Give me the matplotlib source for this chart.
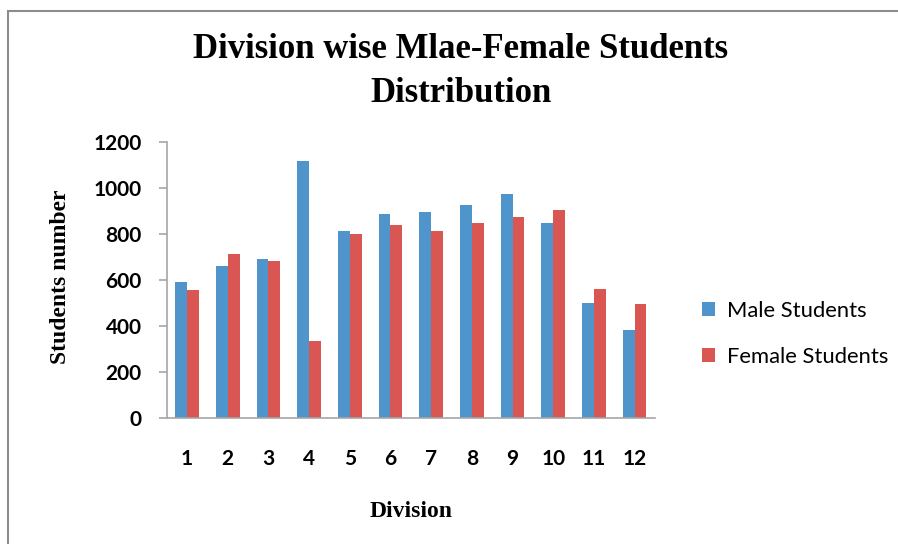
import numpy as np
import matplotlib.pyplot as plt
from matplotlib.patches import Rectangle

# division-wise counts
divisions = ["1", "2", "3", "4", "5", "6", "7", "8", "9", "10", "11", "12"]
male = [590, 662, 690, 1115, 814, 885, 896, 926, 974, 848, 500, 382]
female = [558, 714, 682, 334, 798, 838, 814, 848, 874, 902, 562, 496]

BLUE = "#4f95cb"
RED = "#d95652"
GRID = "#a6a6a6"

fig = plt.figure(figsize=(8.98, 5.44), dpi=100)
ax = fig.add_axes([0.1856, 0.231, 0.5438, 0.5085])

x = np.arange(len(divisions))
w = 0.29
ax.bar(x - w / 2, male, w, color=BLUE, label="Male Students")
ax.bar(x + w / 2, female, w, color=RED, label="Female Students")

ax.set_xlim(-0.5, len(divisions) - 0.5)
ax.set_ylim(0, 1200)
ax.set_yticks(range(0, 1201, 200))
ax.set_xticks(x)
ax.set_xticklabels(divisions)

for s in ["top", "right"]:
    ax.spines[s].set_visible(False)
for s in ["left", "bottom"]:
    ax.spines[s].set_color(GRID)
    ax.spines[s].set_linewidth(1.2)

for lab in ax.get_yticklabels() + ax.get_xticklabels():
    lab.set_fontfamily("Lato")
    lab.set_fontweight("bold")
    lab.set_fontsize(15)
ax.tick_params(axis="y", length=6, color=GRID, width=1.2, pad=12)
ax.tick_params(axis="x", length=0, pad=22)

serif = dict(family="Liberation Serif", weight="bold")
ax.set_xlabel("Division", fontsize=17, labelpad=23, **serif)
fig.text(61 / 898, 1 - 277 / 544, "Students number", rotation=90,
         ha="center", va="center", fontsize=17, **serif)

fig.text(461 / 898, 1 - 50 / 544, "Division wise Mlae-Female Students",
         ha="center", va="center", fontsize=25, **serif)
fig.text(461 / 898, 1 - 93 / 544, "Distribution",
         ha="center", va="center", fontsize=25, **serif)

leg = fig.legend(loc="center left", bbox_to_anchor=(682 / 898, 1 - 334 / 544),
                 frameon=False, prop=dict(family="Lato", size=15.8),
                 handlelength=0.6, handleheight=0.6, handletextpad=0.55,
                 labelspacing=1.2)

# grey chart-area border
fig.patches.append(Rectangle((8 / 898, -0.05), 1.2, 1 - 11 / 544 + 0.05,
                             transform=fig.transFigure, fill=False,
                             edgecolor="#8c8c8c", linewidth=1.5))

fig.savefig("out.png", dpi=100)
